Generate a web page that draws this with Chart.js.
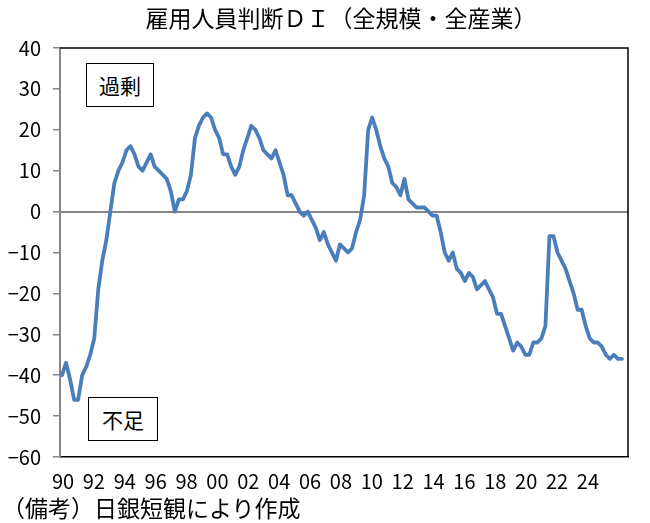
<!DOCTYPE html>
<html>
<head>
<meta charset="utf-8">
<script src="https://cdn.jsdelivr.net/npm/chart.js@4"></script>
<style>
  body { margin: 0; background: #fff; }
  #wrap { position: relative; width: 650px; height: 523px; }
  .txt { position: absolute; font-family: "Noto Sans CJK JP", sans-serif; color: #000; white-space: nowrap; line-height: 1; }
  #title { top: 6px; left: 341px; transform: translateX(-50%); font-size: 23px; }
  #note { top: 496px; left: 2px; font-size: 23px; }
  .box { position: absolute; border: 1px solid #000; background: #fff; font-family: "Noto Sans CJK JP", sans-serif;
         font-size: 21px; display: flex; align-items: center; justify-content: center; box-sizing: border-box; }
</style>
</head>
<body>
<div id="wrap">
  <canvas id="chart" width="650" height="523"></canvas>
  <div class="txt" id="title">雇用人員判断ＤＩ（全規模・全産業）</div>
  <div class="txt" id="note">（備考）日銀短観により作成</div>
  <div class="box" style="left:86px;top:63px;width:68px;height:44px;">過剰</div>
  <div class="box" style="left:88px;top:397px;width:70px;height:44px;">不足</div>
</div>
<script>
// Data: employment conditions DI, quarterly from 1990 Q1
const firstYear = 1990;
const lastYear = 2025;
const yearLabels = ["90", "92", "94", "96", "98", "00", "02", "04", "06", "08",
                    "10", "12", "14", "16", "18", "20", "22", "24"];
const diValues = [
  -40, -37, -41, -46, -46, -40, -38, -35, -31, -19,   // 1990-1992
  -12, -7, 0, 7, 10, 12, 15, 16, 14, 11,              // 1992-1994
  10, 12, 14, 11, 10, 9, 8, 5, 0, 3,                  // 1995-1997
  3, 5, 9, 18, 21, 23, 24, 23, 20, 18,                // 1997-1999
  14, 14, 11, 9, 11, 15, 18, 21, 20, 18,              // 2000-2002
  15, 14, 13, 15, 12, 9, 4, 4, 2, 0,                  // 2002-2004
  -1, 0, -2, -4, -7, -5, -8, -10, -12, -8,            // 2005-2007
  -9, -10, -9, -5, -2, 4, 20, 23, 20, 16,             // 2007-2009
  13, 11, 7, 6, 4, 8, 3, 2, 1, 1,                     // 2010-2012
  1, 0, -1, -1, -5, -10, -12, -10, -14, -15,          // 2012-2014
  -17, -15, -16, -19, -18, -17, -19, -21, -25, -25,   // 2015-2017
  -28, -31, -34, -32, -33, -35, -35, -32, -32, -31,   // 2017-2019
  -28, -6, -6, -10, -12, -14, -17, -20, -24, -24,     // 2020-2022
  -28, -31, -32, -32, -33, -35, -36, -35, -36, -36    // 2022-2024
];

// quarter categories 1990Q1 .. 2025Q1 (last one has no value yet)
const quarters = [];
for (let y = firstYear; y <= lastYear; y++) {
  for (let q = 1; q <= 4; q++) {
    if (y === lastYear && q > 1) break;
    quarters.push(y + "Q" + q);
  }
}

const numFont = { family: "'Noto Sans CJK JP', sans-serif", size: 20 };

// top and right border of the plot area
const frame = {
  id: "frame",
  beforeDatasetsDraw(chart) {
    const { ctx, chartArea: a } = chart;
    ctx.save();
    ctx.strokeStyle = "#000";
    ctx.lineWidth = 1.5;
    ctx.beginPath();
    ctx.moveTo(a.left, a.top);
    ctx.lineTo(a.right, a.top);
    ctx.lineTo(a.right, a.bottom);
    ctx.stroke();
    ctx.restore();
  }
};

new Chart(document.getElementById("chart"), {
  type: "line",
  data: {
    labels: quarters,
    datasets: [{
      data: diValues,
      borderColor: "#4A7EBB",
      borderWidth: 3.8,
      pointRadius: 0,
      tension: 0,
      borderJoinStyle: "round",
      borderCapStyle: "round"
    }]
  },
  options: {
    responsive: false,
    animation: false,
    layout: { padding: { top: 48, right: 22, left: 0, bottom: 16 } },
    plugins: { legend: { display: false }, tooltip: { enabled: false } },
    scales: {
      x: {
        type: "category",
        offset: true,
        position: { y: 0 },
        grid: { display: false },
        ticks: { display: false },
        border: { display: true, color: "#868686", width: 2 }
      },
      xl: {
        type: "linear",
        axis: "x",
        position: "bottom",
        min: -0.097,
        max: 18.297,
        grid: { display: false, drawTicks: false },
        border: { display: true, color: "#000", width: 1.5 },
        ticks: {
          stepSize: 1,
          includeBounds: false,
          autoSkip: false,
          maxRotation: 0,
          padding: 12,
          color: "#000",
          font: numFont,
          callback: (v) => yearLabels[v] ?? ""
        },
        afterFit: (s) => { s.height = 50; }
      },
      y: {
        min: -60,
        max: 40,
        ticks: {
          stepSize: 10,
          padding: 12,
          color: "#000",
          font: numFont,
          callback: (v) => (v < 0 ? "\u2212" + Math.abs(v) : "" + v)
        },
        grid: { drawOnChartArea: false, tickLength: 7, color: "#868686", lineWidth: 1.5 },
        border: { color: "#868686", width: 2 },
        afterFit: (s) => { s.width = 60; }
      }
    }
  },
  plugins: [frame]
});
</script>
</body>
</html>
